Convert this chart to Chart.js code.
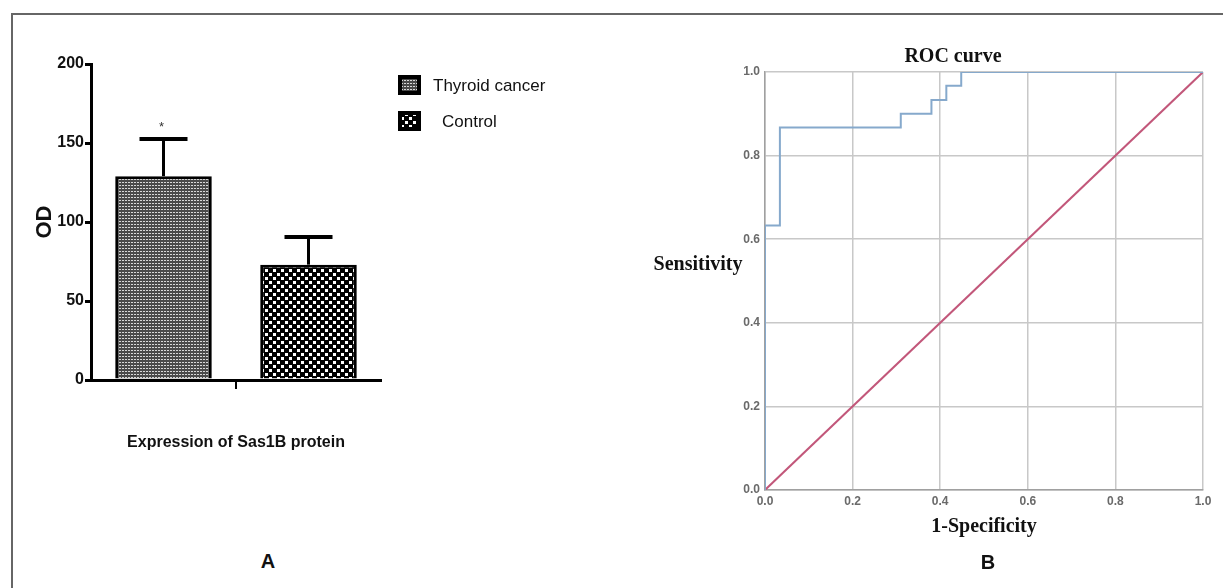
<!DOCTYPE html>
<html>
<head>
<meta charset="utf-8">
<script src="https://cdn.jsdelivr.net/npm/chart.js@4.4.1/dist/chart.umd.min.js"></script>
<style>
  body { margin: 0; width: 1223px; height: 588px; overflow: hidden; background: #fff; position: relative; }
  #frame { position: absolute; left: 11px; top: 13px; width: 1300px; height: 700px; border-left: 2px solid #666; border-top: 2px solid #666; }
  canvas { position: absolute; }
  #chartA { left: 20px; top: 40px; }
  #chartB { left: 620px; top: 30px; }
  .panel { position: absolute; font: bold 20px "Liberation Sans", Arial, sans-serif; color: #111; width: 40px; text-align: center; }
</style>
</head>
<body>
<div id="frame"></div>
<canvas id="chartA" width="580" height="430"></canvas>
<canvas id="chartB" width="603" height="540"></canvas>
<div class="panel" style="left:248px; top:550px;">A</div>
<div class="panel" style="left:968px; top:551px;">B</div>
<script>
// Panel A - OD of Sas1B protein
const groups = ["Thyroid cancer", "Control"];
const odMeans = [129, 73];
const odErrors = [23.5, 17.5];

// Panel B - ROC curve corners (1-specificity, sensitivity)
const rocFpr = [0, 0, 0.034, 0.31, 0.38, 0.414, 0.448, 1];
const rocTpr = [0, 0.633, 0.867, 0.9, 0.933, 0.967, 1, 1];
const refFpr = [0, 1];
const refTpr = [0, 1];

const sans = "'Liberation Sans', Arial, sans-serif";
const serif = "'Liberation Serif', 'Times New Roman', serif";

function makePattern(size, bg, fg, dots) {
  const c = document.createElement("canvas");
  c.width = size; c.height = size;
  const g = c.getContext("2d");
  g.fillStyle = bg;
  g.fillRect(0, 0, size, size);
  g.fillStyle = fg;
  dots.forEach(d => g.fillRect(d[0], d[1], d[2], d[3]));
  return g.createPattern(c, "repeat");
}

const ctxA = document.getElementById("chartA").getContext("2d");
const patterns = [
  makePattern(3, "#4a4a4a", "#d8d8d8", [[0, 1, 2, 1]]),
  makePattern(8, "#000", "#fff", [[1, 1, 3, 3], [5, 5, 3, 3]])
];

const errorBars = {
  id: "errorBars",
  afterDatasetsDraw(chart) {
    const ctx = chart.ctx;
    const y = chart.scales.y;
    ctx.save();
    ctx.strokeStyle = "#000";
    groups.forEach((g, i) => {
      const bar = chart.getDatasetMeta(i).data[0];
      const top = y.getPixelForValue(odMeans[i] + odErrors[i]);
      ctx.lineWidth = 3;
      ctx.beginPath();
      ctx.moveTo(bar.x, bar.y);
      ctx.lineTo(bar.x, top);
      ctx.stroke();
      ctx.lineWidth = 4;
      ctx.beginPath();
      ctx.moveTo(bar.x - 24, top);
      ctx.lineTo(bar.x + 24, top);
      ctx.stroke();
      if (i === 0) {
        ctx.fillStyle = "#333";
        ctx.font = "13px " + sans;
        ctx.textAlign = "center";
        ctx.fillText("*", bar.x - 2, top - 8);
      }
    });
    // legend
    const area = chart.chartArea;
    const lx = area.right + 17;
    groups.forEach((g, i) => {
      const ly = area.top + 11 + i * 36;
      ctx.fillStyle = "#000";
      ctx.fillRect(lx, ly, 23, 20);
      ctx.fillStyle = patterns[i];
      ctx.fillRect(lx + 4, ly + 4, 15, 12);
      ctx.fillStyle = "#111";
      ctx.font = "17px " + sans;
      ctx.textAlign = "left";
      ctx.textBaseline = "middle";
      ctx.fillText(g, lx + (i === 0 ? 35 : 44), ly + 11);
    });
    ctx.restore();
  }
};

new Chart(ctxA, {
  type: "bar",
  data: {
    labels: ["Sas1B"],
    datasets: groups.map((g, i) => ({
      label: g,
      data: [odMeans[i]],
      backgroundColor: patterns[i],
      borderColor: "#000",
      borderWidth: 3,
      borderSkipped: "start",
      categoryPercentage: 1,
      barPercentage: 0.666
    }))
  },
  options: {
    responsive: false,
    animation: false,
    devicePixelRatio: 1,
    layout: { padding: { top: 24, right: 219, left: 0, bottom: 0 } },
    plugins: { legend: { display: false }, tooltip: { enabled: false } },
    scales: {
      x: {
        grid: { offset: false, drawOnChartArea: false, color: "#000", lineWidth: 2, tickLength: 9 },
        border: { color: "#000", width: 3 },
        ticks: { callback: () => "" },
        title: { display: true, text: "Expression of Sas1B protein", color: "#111",
                 font: { family: sans, size: 16, weight: "bold" }, padding: { top: 0, bottom: 18 } },
        afterFit: s => { s.height = 90; }
      },
      y: {
        min: 0, max: 200,
        ticks: { stepSize: 50, color: "#111", padding: 1, font: { family: sans, size: 16, weight: "bold" } },
        grid: { drawOnChartArea: false, color: "#000", lineWidth: 3, tickLength: 6 },
        border: { color: "#000", width: 3 },
        title: { display: true, text: "OD", color: "#111",
                 font: { family: sans, size: 22, weight: "bold" }, padding: { top: 12, bottom: 0 } },
        afterFit: s => { s.width = 71; }
      }
    }
  },
  plugins: [errorBars]
});

const rocLabels = {
  id: "rocLabels",
  afterDraw(chart) {
    const ctx = chart.ctx;
    const a = chart.chartArea;
    ctx.save();
    ctx.fillStyle = "#111";
    ctx.textAlign = "center";
    ctx.textBaseline = "middle";
    ctx.font = "bold 20px " + serif;
    ctx.fillText("ROC curve", a.left + 188, a.top - 15);
    ctx.fillText("Sensitivity", a.left - 67, a.top + 193);
    ctx.restore();
  }
};

const tickFont = { family: sans, size: 12, weight: "bold" };

new Chart(document.getElementById("chartB").getContext("2d"), {
  type: "line",
  data: {
    datasets: [
      {
        label: "ROC",
        data: rocFpr.map((x, i) => ({ x: x, y: rocTpr[i] })),
        borderColor: "#86a9cc",
        borderWidth: 2,
        stepped: "before",
        pointRadius: 0,
        fill: false
      },
      {
        label: "Reference",
        data: refFpr.map((x, i) => ({ x: x, y: refTpr[i] })),
        borderColor: "#c2577a",
        borderWidth: 2,
        pointRadius: 0,
        fill: false
      }
    ]
  },
  options: {
    responsive: false,
    animation: false,
    devicePixelRatio: 1,
    layout: { padding: { top: 42, right: 20, left: 0, bottom: 0 } },
    plugins: { legend: { display: false }, tooltip: { enabled: false } },
    scales: {
      x: {
        type: "linear", min: 0, max: 1,
        ticks: { stepSize: 0.2, padding: 4, color: "#6a6a6a", callback: v => v.toFixed(1), font: tickFont },
        grid: { color: "#c8c8c8", lineWidth: 1.5, drawTicks: false },
        border: { color: "#a0a0a0", width: 1.5 },
        title: { display: true, text: "1-Specificity", color: "#111",
                 font: { family: serif, size: 20, weight: "bold" }, padding: { top: 0, bottom: 31 } },
        afterFit: s => { s.height = 80; }
      },
      y: {
        min: 0, max: 1,
        ticks: { stepSize: 0.2, padding: 5, color: "#6a6a6a", callback: v => v.toFixed(1), font: tickFont },
        grid: { color: "#c8c8c8", lineWidth: 1.5, drawTicks: false },
        border: { color: "#a0a0a0", width: 1.5 },
        afterFit: s => { s.width = 145; }
      }
    }
  },
  plugins: [rocLabels]
});
</script>
</body>
</html>
